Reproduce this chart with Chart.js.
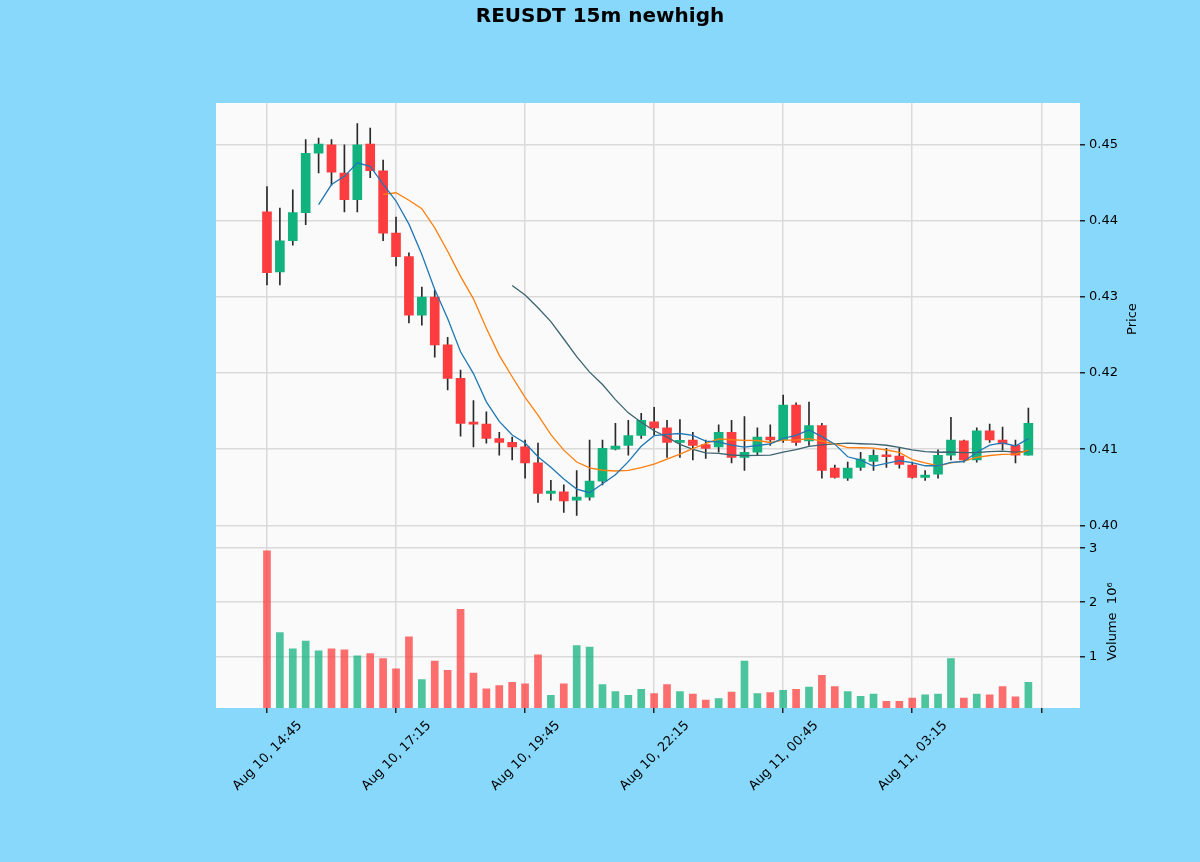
<!DOCTYPE html>
<html><head><meta charset="utf-8">
<script src="https://cdn.jsdelivr.net/npm/chart.js@4"></script>
<style>html,body{margin:0;padding:0;background:#88d8fb;}#wrap{width:1200px;height:862px;position:relative}canvas{display:block}</style>
</head><body>
<div id="wrap"><canvas id="c" width="1200" height="862" style="width:1200px;height:862px"></canvas></div>
<script>
const chartTitle = 'REUSDT 15m newhigh';
const tickPositions = [0, 10, 20, 30, 40, 50, 60];
const tickLabels = ['Aug 10, 14:45', 'Aug 10, 17:15', 'Aug 10, 19:45', 'Aug 10, 22:15', 'Aug 11, 00:45', 'Aug 11, 03:15', ''];
const opens  = [0.4412,0.4333,0.4374,0.4411,0.4489,0.4500,0.4463,0.4428,0.4501,0.4466,0.4384,0.4353,0.4276,0.4300,0.4237,0.4193,0.4134,0.4133,0.4114,0.4109,0.4103,0.4082,0.4042,0.4044,0.4033,0.4037,0.4058,0.4100,0.4105,0.4118,0.4136,0.4128,0.4109,0.4112,0.4106,0.4103,0.4122,0.4089,0.4096,0.4116,0.4112,0.4158,0.4111,0.4131,0.4075,0.4062,0.4076,0.4084,0.4092,0.4091,0.4079,0.4063,0.4067,0.4092,0.4111,0.4086,0.4124,0.4112,0.4105,0.4092];
const highs  = [0.4445,0.4417,0.4441,0.4507,0.4509,0.4507,0.4500,0.4528,0.4522,0.4480,0.4405,0.4358,0.4313,0.4309,0.4247,0.4204,0.4164,0.4149,0.4122,0.4116,0.4112,0.4108,0.4059,0.4053,0.4072,0.4112,0.4112,0.4134,0.4138,0.4147,0.4155,0.4138,0.4139,0.4122,0.4112,0.4132,0.4138,0.4143,0.4128,0.4132,0.4171,0.4161,0.4162,0.4134,0.4079,0.4083,0.4096,0.4099,0.4101,0.4101,0.4083,0.4072,0.4099,0.4142,0.4112,0.4128,0.4133,0.4129,0.4112,0.4154];
const lows   = [0.4316,0.4316,0.4368,0.4395,0.4463,0.4447,0.4412,0.4412,0.4457,0.4374,0.4341,0.4266,0.4263,0.4221,0.4178,0.4117,0.4103,0.4108,0.4092,0.4086,0.4062,0.4030,0.4033,0.4017,0.4013,0.4033,0.4053,0.4099,0.4092,0.4114,0.4118,0.4089,0.4089,0.4086,0.4088,0.4096,0.4082,0.4072,0.4092,0.4105,0.4109,0.4105,0.4105,0.4062,0.4062,0.4059,0.4072,0.4072,0.4076,0.4075,0.4062,0.4059,0.4062,0.4086,0.4083,0.4083,0.4109,0.4099,0.4082,0.4092];
const closes = [0.4332,0.4374,0.4411,0.4489,0.4501,0.4464,0.4428,0.4500,0.4466,0.4384,0.4353,0.4276,0.4300,0.4237,0.4193,0.4134,0.4133,0.4114,0.4109,0.4103,0.4082,0.4042,0.4045,0.4032,0.4037,0.4058,0.4101,0.4104,0.4118,0.4138,0.4128,0.4109,0.4110,0.4105,0.4101,0.4122,0.4089,0.4096,0.4116,0.4112,0.4158,0.4109,0.4131,0.4072,0.4063,0.4075,0.4087,0.4092,0.4090,0.4080,0.4063,0.4066,0.4092,0.4112,0.4086,0.4124,0.4112,0.4107,0.4092,0.4134];
const volumes = [2.95,1.44,1.14,1.28,1.10,1.14,1.12,1.01,1.05,0.96,0.77,1.36,0.57,0.91,0.74,1.87,0.69,0.40,0.46,0.52,0.49,1.03,0.28,0.49,1.20,1.17,0.48,0.35,0.28,0.39,0.31,0.48,0.35,0.30,0.19,0.22,0.34,0.91,0.31,0.33,0.37,0.39,0.43,0.65,0.44,0.35,0.26,0.30,0.17,0.17,0.23,0.29,0.30,0.96,0.23,0.30,0.29,0.44,0.25,0.52];
const maPeriods = [5, 10, 20];

const UP = '#12b27e', DOWN = '#fc3d3f';
const UPV = 'rgba(18,178,126,0.75)', DOWNV = 'rgba(252,61,63,0.75)';
const maColors = ['#1f77b4', '#ff7f0e', '#3c6470'];

function sma(arr, n) {
  return arr.map((v, i) => {
    if (i < n - 1) return {x: i, y: null};
    let s = 0; for (let k = i - n + 1; k <= i; k++) s += arr[k];
    return {x: i, y: s / n};
  });
}
const isUp = closes.map((c, i) => c >= opens[i]);

Chart.defaults.font.family = '"DejaVu Sans", sans-serif';
Chart.defaults.font.size = 13;
Chart.defaults.color = '#000';

const GRID = '#dadada';
const bgPlugin = {
  id: 'bg',
  beforeDraw(chart) {
    const {ctx, chartArea: a} = chart;
    ctx.save();
    ctx.fillStyle = '#88d8fb';
    ctx.fillRect(0, 0, chart.width, chart.height);
    ctx.fillStyle = '#fafafa';
    ctx.fillRect(a.left, a.top, a.right - a.left, a.bottom - a.top);
    ctx.restore();
  },
  afterDraw(chart) {
    const {ctx} = chart;
    ctx.save();
    ctx.fillStyle = '#000';
    ctx.textAlign = 'center';
    ctx.textBaseline = 'middle';
    ctx.font = 'bold 20px "DejaVu Sans"';
    ctx.fillText(chartTitle, 600, 17);
    ctx.font = '13px "DejaVu Sans"';
    const py = chart.scales.y, vy = chart.scales.yv;
    ctx.translate(1133, (py.top + py.bottom) / 2);
    ctx.rotate(-Math.PI / 2);
    ctx.fillText('Price', 0, 0);
    ctx.restore();
    ctx.save();
    ctx.fillStyle = '#000';
    ctx.textAlign = 'center';
    ctx.textBaseline = 'middle';
    ctx.font = '13px "DejaVu Sans"';
    ctx.translate(1113, (vy.top + vy.bottom) / 2);
    ctx.rotate(-Math.PI / 2);
    ctx.fillText('Volume  10\u2076', 0, 0);
    ctx.restore();
  }
};

const datasets = [
  ...maPeriods.map((p, k) => ({
    type: 'line', label: 'MA' + p, data: sma(closes, p), yAxisID: 'y',
    borderColor: maColors[k], borderWidth: 1.3, pointRadius: 0, spanGaps: false, order: 0, tension: 0
  })),
  {
    type: 'bar', label: 'body', yAxisID: 'y', order: 1, grouped: false,
    data: opens.map((o, i) => ({x: i, y: [o, closes[i]]})),
    backgroundColor: isUp.map(u => u ? UP : DOWN), borderWidth: 0,
    barThickness: 9, minBarLength: 2
  },
  {
    type: 'bar', label: 'wick', yAxisID: 'y', order: 2, grouped: false,
    data: lows.map((l, i) => ({x: i, y: [l, highs[i]]})),
    backgroundColor: '#2a2a2a', borderWidth: 0, barThickness: 1
  },
  {
    type: 'bar', label: 'volume', yAxisID: 'yv', order: 3, grouped: false,
    data: volumes.map((v, i) => ({x: i, y: v})),
    backgroundColor: isUp.map(u => u ? UPV : DOWNV), borderWidth: 0, barThickness: 7
  }
];

new Chart(document.getElementById('c'), {
  type: 'bar',
  data: {datasets},
  options: {
    responsive: false, animation: false, devicePixelRatio: 1,
    layout: {padding: {left: 216, top: 103, right: 0, bottom: 0}},
    plugins: {legend: {display: false}, tooltip: {enabled: false}},
    scales: {
      x: {
        type: 'linear', min: -3.95, max: 63.0, offset: false,
        afterBuildTicks: s => { s.ticks = tickPositions.map(v => ({value: v})); },
        afterFit: s => { s.height = 154; },
        grid: {color: GRID, lineWidth: 1.5, tickColor: '#222', tickLength: 5, drawTicks: true, offset: false},
        border: {display: false},
        ticks: {
          autoSkip: false, minRotation: 45, maxRotation: 45, labelOffset: 33, padding: 5,
          callback: v => { const k = tickPositions.indexOf(v); return k >= 0 ? tickLabels[k] : ''; }
        }
      },
      y: {
        type: 'linear', position: 'right', stack: 'panes', stackWeight: 5,
        min: 0.3987, max: 0.4555,
        afterFit: s => { s.width = 120; },
        grid: {color: GRID, lineWidth: 1.5, tickColor: '#222', tickLength: 5},
        border: {display: false},
        ticks: {stepSize: 0.01, includeBounds: false, padding: 4, callback: v => v.toFixed(2)}
      },
      yv: {
        type: 'linear', position: 'right', stack: 'panes', stackWeight: 2,
        min: 0.045, max: 3.24,
        afterFit: s => { s.width = 120; },
        grid: {color: GRID, lineWidth: 1.5, tickColor: '#222', tickLength: 5},
        border: {display: false},
        ticks: {stepSize: 1, includeBounds: false, padding: 4, callback: v => String(v)}
      }
    }
  },
  plugins: [bgPlugin]
});
</script>
</body></html>
